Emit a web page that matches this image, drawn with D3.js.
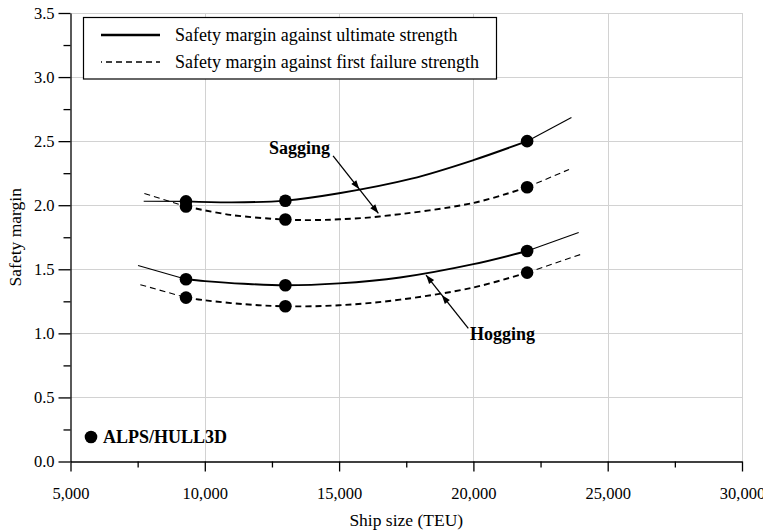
<!DOCTYPE html>
<html>
<head>
<meta charset="utf-8">
<script src="https://cdn.jsdelivr.net/npm/d3@7/dist/d3.min.js"></script>
<style>
  html, body { margin: 0; padding: 0; background: #fff; }
  svg { display: block; font-family: "Liberation Serif", "Times New Roman", serif; }
</style>
</head>
<body>
<svg id="chart" width="763" height="532"></svg>
<script>
// Ship sizes of the analysed container ships (TEU)
const shipSizes = [9300, 13000, 22000];

// ALPS/HULL3D safety margins at each ship size
const sagUltimate = [2.03, 2.035, 2.50];
const sagFirstFailure = [1.99, 1.888, 2.14];
const hogUltimate = [1.422, 1.375, 1.643];
const hogFirstFailure = [1.279, 1.211, 1.474];

// Trend curves through the analysed ships: [TEU, margin]
const sagUltimateCurve = [[9300, 2.03], [11000, 2.022], [13000, 2.036], [15000, 2.093], [17700, 2.207], [20000, 2.352], [22000, 2.50]];
const sagFirstFailureCurve = [[9300, 1.99], [10950, 1.925], [13000, 1.888], [14000, 1.884], [15000, 1.89], [16500, 1.912], [20000, 2.018], [22000, 2.14]];
const hogUltimateCurve = [[9300, 1.422], [10000, 1.408], [11450, 1.387], [13000, 1.375], [15000, 1.39], [17270, 1.436], [20000, 1.54], [22000, 1.643]];
const hogFirstFailureCurve = [[9300, 1.279], [10000, 1.258], [11500, 1.227], [13000, 1.211], [15000, 1.219], [17270, 1.263], [20000, 1.358], [22000, 1.474]];

// Extrapolated ends of each trend curve: [left end, right end]
const sagUltimateExt = [[7725, 2.031], [23650, 2.685]];
const sagFirstFailureExt = [[7750, 2.091], [23560, 2.279]];
const hogUltimateExt = [[7515, 1.529], [23920, 1.787]];
const hogFirstFailureExt = [[7600, 1.38], [23985, 1.615]];

// Axis ticks
const xTicks = [5000, 10000, 15000, 20000, 25000, 30000];
const xMinorTicks = [7500, 12500, 17500, 22500, 27500];
const yTicks = [0, 0.5, 1.0, 1.5, 2.0, 2.5, 3.0, 3.5];
const yMinorTicks = [0.25, 0.75, 1.25, 1.75, 2.25, 2.75, 3.25];

// Load case labels with arrow paths [from, first tip, second tip] in data units
const sagLabel = { text: "Sagging", at: [12390, 2.40], arrow: [[14776, 2.385], [15755, 2.125], [16462, 1.937]] };
const hogLabel = { text: "Hogging", at: [19873, 0.948], arrow: [[19811, 1.039], [18821, 1.299], [18237, 1.455]] };

const legendLabels = ["Safety margin against ultimate strength", "Safety margin against first failure strength"];
const markerLabel = "ALPS/HULL3D";

const svg = d3.select("#chart");

const x = d3.scaleLinear().domain([5000, 30000]).range([70.5, 742]);
const y = d3.scaleLinear().domain([0, 3.5]).range([461.5, 13]);

// Grid lines
const grid = svg.append("g").attr("stroke", "#d2d2d2").attr("stroke-width", 1);
grid.selectAll("line.v").data(xTicks.slice(1)).join("line")
  .attr("x1", d => Math.round(x(d)) + 0.5).attr("x2", d => Math.round(x(d)) + 0.5)
  .attr("y1", y(3.5)).attr("y2", y(0));
grid.selectAll("line.h").data(yTicks.slice(1)).join("line")
  .attr("y1", d => Math.round(y(d)) + 0.5).attr("y2", d => Math.round(y(d)) + 0.5)
  .attr("x1", x(5000)).attr("x2", x(30000));

// Axes
const fmt = d3.format(",");
const xAxis = svg.append("g").attr("transform", `translate(0,${y(0)})`)
  .call(d3.axisBottom(x).tickValues(xTicks).tickFormat(fmt).tickSize(10).tickSizeOuter(0));
const xMinor = svg.append("g").attr("transform", `translate(0,${y(0)})`)
  .call(d3.axisBottom(x).tickValues(xMinorTicks).tickFormat("").tickSize(6).tickSizeOuter(0));
const yAxis = svg.append("g").attr("transform", `translate(${x(5000)},0)`)
  .call(d3.axisLeft(y).tickValues(yTicks).tickFormat(d3.format(".1f")).tickSize(12).tickSizeOuter(0));
const yMinor = svg.append("g").attr("transform", `translate(${x(5000)},0)`)
  .call(d3.axisLeft(y).tickValues(yMinorTicks).tickFormat("").tickSize(7).tickSizeOuter(0));

[xAxis, xMinor, yAxis, yMinor].forEach(g => {
  g.attr("font-family", "Liberation Serif");
  g.selectAll("path").attr("stroke", "#000").attr("stroke-width", 1.3);
  g.selectAll("line").attr("stroke", "#000").attr("stroke-width", 1.3);
});
xMinor.select("path").remove();
yMinor.select("path").remove();
xAxis.selectAll("text").attr("font-size", 16.5).attr("fill", "#000").attr("dy", "1em").attr("y", 21);
yAxis.selectAll("text").attr("font-size", 16.5).attr("fill", "#000").attr("x", -16);

// Axis titles
svg.append("text").attr("x", (x(5000) + x(30000)) / 2).attr("y", 526)
  .attr("text-anchor", "middle").attr("font-size", 17.5).text("Ship size (TEU)");
svg.append("text").attr("transform", `translate(21,${(y(0) + y(3.5)) / 2}) rotate(-90)`)
  .attr("text-anchor", "middle").attr("font-size", 17.5).text("Safety margin");

// Trend curves: smooth through the analysed range, straight extrapolated ends
const line = d3.line().x(d => x(d[0])).y(d => y(d[1])).curve(d3.curveCatmullRom.alpha(0.5));
const straight = d3.line().x(d => x(d[0])).y(d => y(d[1]));
const series = [
  { curve: sagUltimateCurve, ext: sagUltimateExt, dash: null },
  { curve: sagFirstFailureCurve, ext: sagFirstFailureExt, dash: "6,4" },
  { curve: hogUltimateCurve, ext: hogUltimateExt, dash: null },
  { curve: hogFirstFailureCurve, ext: hogFirstFailureExt, dash: "6,4" }
];
const curves = svg.append("g").attr("fill", "none").attr("stroke", "#000");
series.forEach(s => {
  const first = s.curve[0], last = s.curve[s.curve.length - 1];
  curves.append("path").attr("d", line(s.curve)).attr("stroke-width", 1.9)
    .attr("stroke-dasharray", s.dash);
  curves.append("path").attr("d", straight([s.ext[0], first])).attr("stroke-width", 1.1)
    .attr("stroke-dasharray", s.dash);
  curves.append("path").attr("d", straight([last, s.ext[1]])).attr("stroke-width", 1.1)
    .attr("stroke-dasharray", s.dash);
});

// ALPS/HULL3D results
const points = svg.append("g").attr("fill", "#000");
[sagUltimate, sagFirstFailure, hogUltimate, hogFirstFailure].forEach(vals => {
  points.selectAll(null).data(vals.map((v, i) => [shipSizes[i], v])).join("circle")
    .attr("cx", d => x(d[0])).attr("cy", d => y(d[1])).attr("r", 6.3);
});

// Arrowhead helper
function arrowHead(g, from, tip) {
  const ang = Math.atan2(tip[1] - from[1], tip[0] - from[0]);
  const L = 9, W = 3.2;
  const bx = tip[0] - L * Math.cos(ang), by = tip[1] - L * Math.sin(ang);
  const px = -Math.sin(ang) * W, py = Math.cos(ang) * W;
  g.append("path").attr("d", `M${tip[0]},${tip[1]}L${bx + px},${by + py}L${bx - px},${by - py}Z`)
    .attr("fill", "#000").attr("stroke", "none");
}

[sagLabel, hogLabel].forEach(lab => {
  const g = svg.append("g");
  const pts = lab.arrow.map(d => [x(d[0]), y(d[1])]);
  g.append("line").attr("x1", pts[0][0]).attr("y1", pts[0][1]).attr("x2", pts[2][0]).attr("y2", pts[2][1])
    .attr("stroke", "#000").attr("stroke-width", 1.3);
  arrowHead(g, pts[0], pts[1]);
  arrowHead(g, pts[0], pts[2]);
  g.append("text").attr("x", x(lab.at[0])).attr("y", y(lab.at[1]))
    .attr("font-size", 18).attr("font-weight", "bold").text(lab.text);
});

// Legend box
const legend = svg.append("g");
legend.append("rect").attr("x", 83.5).attr("y", 17.5).attr("width", 413).attr("height", 61.5)
  .attr("fill", "#fff").attr("stroke", "#000").attr("stroke-width", 1.2);
legend.append("line").attr("x1", 101).attr("x2", 160).attr("y1", 35).attr("y2", 35)
  .attr("stroke", "#000").attr("stroke-width", 2.6);
legend.append("line").attr("x1", 101).attr("x2", 160).attr("y1", 62).attr("y2", 62)
  .attr("stroke", "#000").attr("stroke-width", 1.5).attr("stroke-dasharray", "6,4").attr("stroke-dashoffset", 5);
legend.selectAll("text").data(legendLabels).join("text")
  .attr("x", 175).attr("y", (d, i) => 41 + i * 26.5).attr("font-size", 18).text(d => d);

// Marker key
svg.append("circle").attr("cx", 91).attr("cy", 437).attr("r", 6.3).attr("fill", "#000");
svg.append("text").attr("x", 103).attr("y", 443).attr("font-size", 18).attr("font-weight", "bold").text(markerLabel);
</script>
</body>
</html>
